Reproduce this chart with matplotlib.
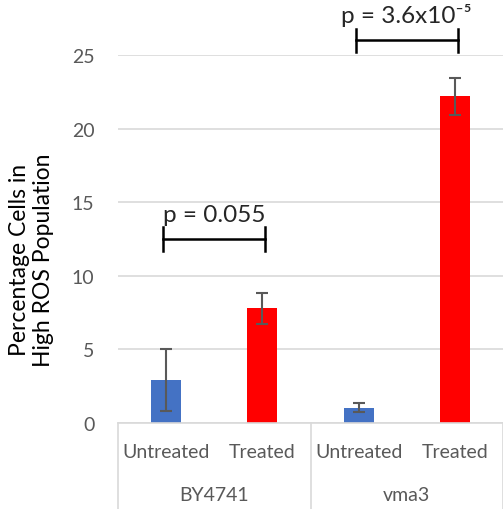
import numpy as np
import matplotlib.pyplot as plt
import matplotlib.transforms as mtransforms

plt.rcParams['font.family'] = ['Lato', 'DejaVu Sans']

conditions = ['Untreated', 'Treated', 'Untreated', 'Treated']
strains = ['BY4741', 'vma3']
values = [2.9, 7.8, 1.05, 22.2]
errors = [2.1, 1.05, 0.32, 1.25]
bar_colors = ['#4472c4', '#ff0000', '#4472c4', '#ff0000']
p_labels = ['p = 0.055', 'p = 3.6x10\u207b\u2075']
bracket_y = [12.5, 26.0]

fig = plt.figure(figsize=(5.03, 5.10), dpi=100)
ax = fig.add_axes([118 / 503, 1 - 424 / 510, 1 - 118 / 503, 368 / 510])

x = np.arange(len(values))
ax.bar(x, values, width=0.31, color=bar_colors, zorder=2)
ax.errorbar(x, values, yerr=errors, fmt='none', ecolor='#595959',
            elinewidth=1.5, capsize=4, capthick=1.5, zorder=3)

ax.set_xlim(-0.5, 3.5)
ax.set_ylim(0, 25)
ax.set_yticks([0, 5, 10, 15, 20, 25])
ax.yaxis.grid(True, color='#d9d9d9', linewidth=1.2, zorder=0)
ax.set_axisbelow(True)
for s in ['top', 'right', 'left']:
    ax.spines[s].set_visible(False)
ax.spines['bottom'].set_color('#d9d9d9')
ax.spines['bottom'].set_linewidth(1.2)
ax.tick_params(axis='y', length=0, labelsize=14, labelcolor='#595959', pad=17)
ax.set_xticks([])

# category labels
trans = mtransforms.blended_transform_factory(ax.transData, ax.transAxes)
for xi, lab in zip(x, conditions):
    ax.text(xi, -0.078, lab, transform=trans, ha='center', va='center',
            fontsize=14, color='#595959')
for gi, lab in enumerate(strains):
    ax.text(2 * gi + 0.5, -0.195, lab, transform=trans, ha='center', va='center',
            fontsize=14, color='#595959')
for sx in [-0.5, 1.5, 3.5]:
    ax.plot([sx, sx], [0, -0.234], transform=trans, color='#d9d9d9',
            linewidth=1.2, clip_on=False)

# significance brackets
for gi, (lab, by) in enumerate(zip(p_labels, bracket_y)):
    x0, x1 = 2 * gi - 0.03, 2 * gi + 1.03
    ax.plot([x0, x1], [by, by], color='black', linewidth=1.8, clip_on=False)
    for xx in [x0, x1]:
        ax.plot([xx, xx], [by - 0.8, by + 0.8], color='black', linewidth=1.8,
                clip_on=False)
    ax.text((x0 + x1) / 2, by + 0.95, lab, ha='center', va='bottom',
            fontsize=17.5, color='#262626', clip_on=False)

fig.text(0.063, 0.49, 'Percentage Cells in\nHigh ROS Population', rotation=90,
         ha='center', va='center', fontsize=16.5, color='black', linespacing=1.2)

fig.savefig('out.png', dpi=100)
